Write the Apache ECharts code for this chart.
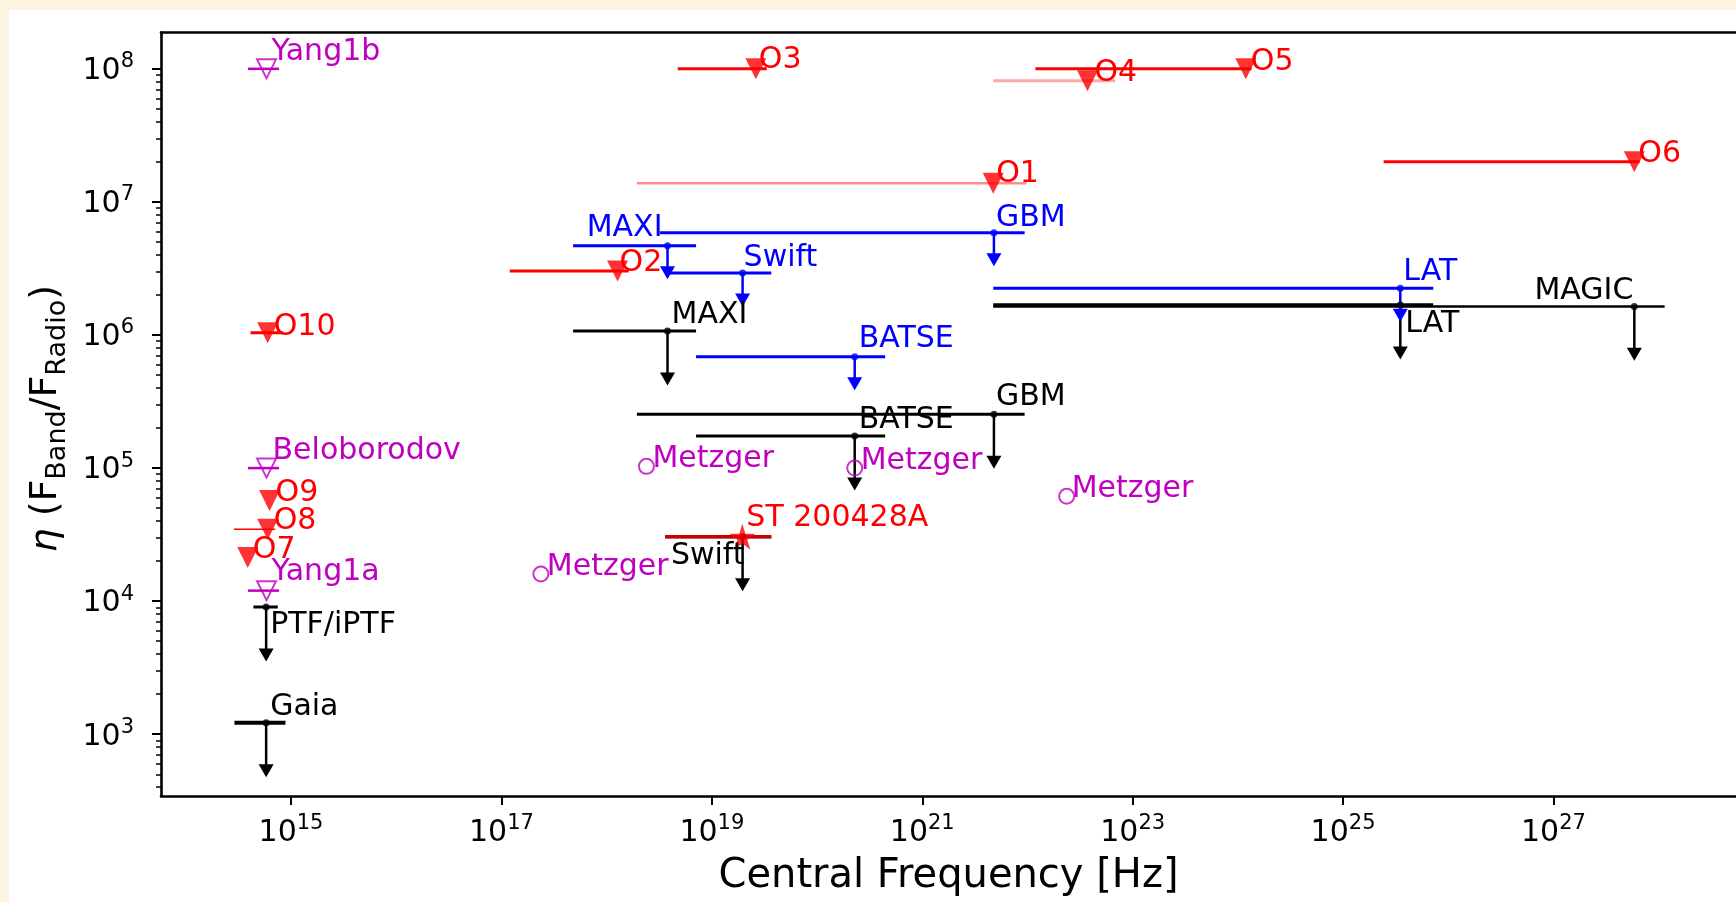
<!DOCTYPE html>
<html><head><meta charset="utf-8">
<script src="https://cdn.jsdelivr.net/npm/echarts@6/dist/echarts.min.js"></script>
<style>
html,body{margin:0;padding:0;background:#fdf3e3;width:1736px;height:902px;overflow:hidden}
#chart{position:absolute;left:9px;top:10px;width:1727px;height:892px;background:#fff}
</style></head><body><div id="chart"></div>
<script>
// ---------------- data ----------------
const xTickExp = [15, 17, 19, 21, 23, 25, 27];
const yTickExp = [3, 4, 5, 6, 7, 8];

// red observed limits (filled down-triangles)
const redNames = ['O1', 'O2', 'O3', 'O4', 'O5', 'O6', 'O7', 'O8', 'O9', 'O10'];
const redX   = [4.73e21, 1.27e18, 2.62e19, 3.72e22, 1.19e24, 5.87e27, 3.88e14, 6.0e14, 6.25e14, 6.0e14];
const redY   = [1.38e7, 3.03e6, 1.0e8, 8.15e7, 1.0e8, 2.0e7, 2.13e4, 3.47e4, 5.7e4, 1.04e6];
const redXlo = [1.94e18, 1.2e17, 4.74e18, 4.73e21, 1.19e22, 2.43e25, 3.88e14, 2.87e14, 6.25e14, 4.12e14];
const redXhi = [9.8e21, 1.62e18, 3.33e19, 6.82e22, 1.35e24, 6.6e27, 3.88e14, 7.08e14, 6.25e14, 8.37e14];

// SGR burst (star)
const starNames = ['ST 200428A'];
const starX   = [1.95e19];
const starY   = [3.05e4];
const starXlo = [3.6e18];
const starXhi = [3.67e19];

// blue upper limits
const blueNames = ['MAXI', 'Swift', 'GBM', 'BATSE', 'LAT'];
const blueX   = [3.79e18, 1.96e19, 4.8e21, 2.28e20, 3.5e25];
const blueY   = [4.69e6, 2.92e6, 5.86e6, 6.87e5, 2.25e6];
const blueXlo = [4.8e17, 3.79e18, 3.2e18, 7.08e18, 4.73e21];
const blueXhi = [7.08e18, 3.67e19, 9.4e21, 4.44e20, 7.2e25];

// black upper limits
const blackNames = ['MAXI', 'Swift', 'BATSE', 'GBM', 'LAT', 'MAGIC', 'PTF/iPTF', 'Gaia'];
const blackX   = [3.79e18, 1.96e19, 2.28e20, 4.8e21, 3.5e25, 5.87e27, 5.8e14, 5.8e14];
const blackY   = [1.07e6, 3.05e4, 1.74e5, 2.54e5, 1.68e6, 1.64e6, 9.04e3, 1.22e3];
const blackXlo = [4.8e17, 3.6e18, 7.08e18, 1.94e18, 4.73e21, 4.73e21, 4.39e14, 2.9e14];
const blackXhi = [7.08e18, 3.67e19, 4.44e20, 9.4e21, 7.2e25, 1.14e28, 7.48e14, 8.85e14];

// magenta model predictions (open down-triangles)
const modelNames = ['Yang1b', 'Beloborodov', 'Yang1a'];
const modelX   = [5.85e14, 5.85e14, 5.85e14];
const modelY   = [1.0e8, 1.0e5, 1.2e4];
const modelXlo = [3.9e14, 3.9e14, 3.9e14];
const modelXhi = [7.7e14, 7.7e14, 7.7e14];

// magenta Metzger predictions (open circles)
const metzgerNames = ['Metzger', 'Metzger', 'Metzger', 'Metzger'];
const metzgerX = [2.37e17, 2.39e18, 2.28e20, 2.36e22];
const metzgerY = [1.6e4, 1.03e5, 1.0e5, 6.14e4];

// ---------------- styles / layout ----------------
const L = Math.log10;
const X_MIN = 13.764, X_MAX = 28.735, Y_MIN = 2.536, Y_MAX = 8.273;
const FONT = 'DejaVu Sans';
const RED = '#ff0000', BLUE = '#0000ff', BLACK = '#000000', MAG = '#bf00bf';
const LABEL_SIZE = 30, BASE = 8;

const redBarWidth   = [2.5, 3, 3, 3, 3, 3, 2, 1.5, 2, 3];
const redBarOpacity = [0.45, 1, 1, 0.35, 1, 1, 1, 1, 1, 1];
const redLabelLayout   = [[3,-1],[2,0],[3,-1],[7,1],[5,1],[4,0],[5,1],[6,0],[6,1],[6,2]];
const starLabelLayout  = [[4,-11]];
const blueLabelLayout  = [[-5,-9,'right'],[1,-7],[2,-7],[4,-9],[3,-8]];
const blackLabelLayout = [[4,-8],[2,27,'right'],[4,-8],[2,-9],[5,27],[-1,-7,'right'],[4,26],[4,-8]];
const blackBarWidth    = [3, 3, 3, 3, 3.5, 2.5, 3, 4];
const modelLabelLayout = [[5,-9],[6,-9],[5,-10]];
const metzgerLabelLayout = [[6,1],[6,1],[6,1],[5,1]];

const yMinor = [];
for (let n = 2; n <= 8; n++) for (let k = 2; k <= 9; k++) {
  const v = n + L(k);
  if (v > Y_MIN && v < Y_MAX) yMinor.push(v);
}

function barSeries(xlo, xhi, ys, color, widths, opac, z) {
  return {
    type: 'custom', silent: true, z: z || 2,
    data: ys.map((y, i) => [L(xlo[i]), L(xhi[i]), L(y)]),
    renderItem(params, api) {
      const i = params.dataIndex;
      const a = api.coord([api.value(0), api.value(2)]);
      const b = api.coord([api.value(1), api.value(2)]);
      return { type: 'line', shape: { x1: a[0], y1: a[1], x2: b[0], y2: b[1] },
        style: { stroke: color, lineWidth: Array.isArray(widths) ? widths[i] : widths,
                 opacity: opac ? opac[i] : 1 } };
    }
  };
}

function arrowSeries(xs, ys, factor, color) {
  return {
    type: 'custom', silent: true, z: 3,
    data: xs.map((x, i) => [L(x), L(ys[i]), L(ys[i] * factor)]),
    renderItem(params, api) {
      const p = api.coord([api.value(0), api.value(1)]);
      const q = api.coord([api.value(0), api.value(2)]);
      const hw = 7.5, hh = 13;
      return { type: 'group', children: [
        { type: 'line', shape: { x1: p[0], y1: p[1], x2: q[0], y2: q[1] - hh + 2 },
          style: { stroke: color, lineWidth: 2.5 } },
        { type: 'polygon', shape: { points: [[q[0] - hw, q[1] - hh], [q[0] + hw, q[1] - hh], [q[0], q[1]]] },
          style: { fill: color } }
      ]};
    }
  };
}

function labelSeries(names, xs, ys, layout, color) {
  return {
    type: 'custom', silent: true, z: 6,
    data: xs.map((x, i) => [L(x), L(ys[i])]),
    renderItem(params, api) {
      const i = params.dataIndex;
      const p = api.coord([api.value(0), api.value(1)]);
      const lay = layout[i];
      return { type: 'text', x: p[0] + lay[0], y: p[1] + lay[1] - BASE,
        style: { text: names[i], fill: color, fontSize: LABEL_SIZE, fontFamily: FONT,
                 align: lay[2] || 'left', verticalAlign: 'middle' } };
    }
  };
}

function scatter(xs, ys, opt) {
  return Object.assign({
    type: 'scatter', silent: true, z: 4,
    data: xs.map((x, i) => [L(x), L(ys[i])])
  }, opt);
}

const STAR = 'path://M50,0 L61.2,34.5 L97.6,34.5 L68.2,55.9 L79.4,90.5 L50,69.1 L20.6,90.5 L31.8,55.9 L2.4,34.5 L38.8,34.5 Z';

const tickRich = {
  b: { fontSize: 30, fontFamily: FONT, color: '#000', lineHeight: 35, verticalAlign: 'bottom' },
  s: { fontSize: 21, fontFamily: FONT, color: '#000', lineHeight: 17, verticalAlign: 'top' }
};
const fmt = v => '{b|10}{s|' + Math.round(v) + '}';
const axisLineStyle = { color: '#000', width: 2.6 };

const option = {
  animation: false,
  backgroundColor: '#ffffff',
  grid: { left: 152, top: 22.5, right: -3, bottom: 99.5, containLabel: false },
  xAxis: [{
    type: 'value', min: X_MIN, max: X_MAX, position: 'bottom',
    axisLine: { show: true, onZero: false, lineStyle: axisLineStyle },
    axisTick: { show: true, customValues: xTickExp, length: 9, lineStyle: { color: '#000', width: 2 } },
    axisLabel: { show: true, customValues: xTickExp, formatter: fmt, margin: 17, rich: tickRich },
    splitLine: { show: false },
    name: 'Central Frequency [Hz]', nameLocation: 'middle', nameGap: 61,
    nameTextStyle: { fontSize: 40, fontFamily: FONT, color: '#000', lineHeight: 40, verticalAlign: 'top' }
  }, {
    type: 'value', min: X_MIN, max: X_MAX, position: 'top',
    axisLine: { show: true, onZero: false, lineStyle: axisLineStyle },
    axisTick: { show: false }, axisLabel: { show: false }, splitLine: { show: false }
  }],
  yAxis: [{
    type: 'value', min: Y_MIN, max: Y_MAX, position: 'left',
    axisLine: { show: true, onZero: false, lineStyle: axisLineStyle },
    axisTick: { show: true, customValues: yTickExp, length: 9, lineStyle: { color: '#000', width: 2 } },
    axisLabel: { show: true, customValues: yTickExp, formatter: fmt, margin: 27, rich: tickRich },
    splitLine: { show: false },
    name: '{e|η}{m| (F}{d|Band}{m|/F}{d|Radio}{m|)}',
    nameLocation: 'middle', nameRotate: 90, nameGap: 87,
    nameTextStyle: {
      color: '#000', fontFamily: FONT, fontSize: 38, padding: [0, 9, 0, 0],
      rich: {
        e: { fontSize: 38, fontFamily: FONT, fontStyle: 'italic', color: '#000', lineHeight: 44, verticalAlign: 'top' },
        m: { fontSize: 38, fontFamily: FONT, color: '#000', lineHeight: 44, verticalAlign: 'top' },
        d: { fontSize: 27, fontFamily: FONT, color: '#000', lineHeight: 20, verticalAlign: 'bottom' }
      }
    }
  }, {
    type: 'value', min: Y_MIN, max: Y_MAX, position: 'left',
    axisLine: { show: false, onZero: false },
    axisTick: { show: true, customValues: yMinor, length: 5, lineStyle: { color: '#000', width: 1.5 } },
    axisLabel: { show: false }, splitLine: { show: false }
  }],
  series: [
    // horizontal bands
    barSeries(redXlo, redXhi, redY, RED, redBarWidth, redBarOpacity, 2),
    barSeries(blueXlo, blueXhi, blueY, BLUE, 3, null, 2),
    barSeries(blackXlo, blackXhi, blackY, BLACK, blackBarWidth, null, 2),
    barSeries(starXlo, starXhi, starY, '#cc0000', 3.5, null, 2),
    barSeries(modelXlo, modelXhi, modelY, MAG, 2.5, null, 2),
    // upper-limit arrows
    arrowSeries(blackX, blackY, 0.39, BLACK),
    arrowSeries(blueX, blueY, 0.56, BLUE),
    // markers
    scatter(blackX, blackY, { symbol: 'circle', symbolSize: 7, itemStyle: { color: BLACK } }),
    scatter(blueX, blueY, { symbol: 'circle', symbolSize: 7, itemStyle: { color: BLUE } }),
    scatter(redX, redY, { symbol: 'triangle', symbolRotate: 180, symbolSize: 21, itemStyle: { color: RED } }),
    scatter(starX, starY, { symbol: STAR, symbolSize: 26, itemStyle: { color: RED } }),
    scatter(modelX, modelY, { symbol: 'triangle', symbolRotate: 180, symbolSize: 19,
      itemStyle: { color: 'rgba(255,255,255,0)', borderColor: MAG, borderWidth: 2 } }),
    scatter(metzgerX, metzgerY, { symbol: 'circle', symbolSize: 15,
      itemStyle: { color: 'rgba(255,255,255,0)', borderColor: MAG, borderWidth: 2 } }),
    // text labels
    labelSeries(redNames, redX, redY, redLabelLayout, RED),
    labelSeries(starNames, starX, starY, starLabelLayout, RED),
    labelSeries(blueNames, blueX, blueY, blueLabelLayout, BLUE),
    labelSeries(blackNames, blackX, blackY, blackLabelLayout, BLACK),
    labelSeries(modelNames, modelX, modelY, modelLabelLayout, MAG),
    labelSeries(metzgerNames, metzgerX, metzgerY, metzgerLabelLayout, MAG)
  ]
};

const chart = echarts.init(document.getElementById('chart'), null, { renderer: 'canvas' });
chart.setOption(option);
</script>
</body></html>
